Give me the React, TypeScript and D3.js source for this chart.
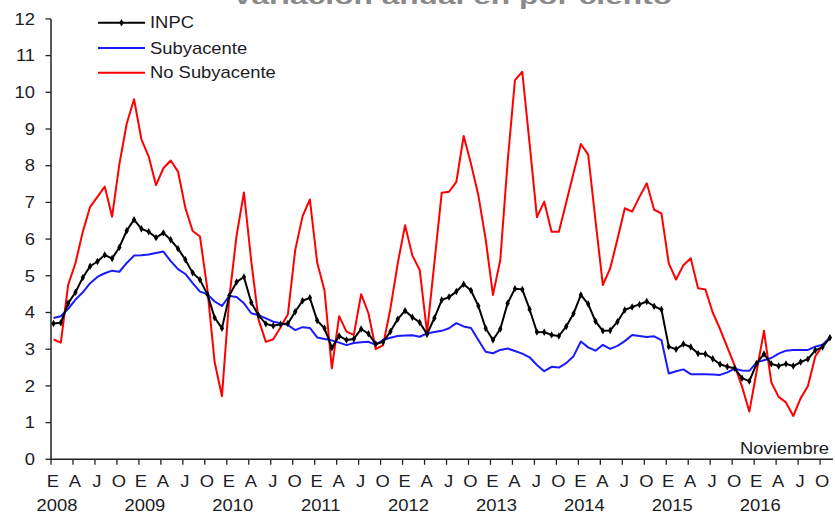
import React from "react";
import * as d3 from "d3";

const W = 835;
const H = 515;

const monthLabels = ["E", "A", "J", "O"];
const years = ["2008", "2009", "2010", "2011", "2012", "2013", "2014", "2015", "2016"];
const yTicks = [0, 1, 2, 3, 4, 5, 6, 7, 8, 9, 10, 11, 12];

const inpc = [
  3.70, 3.72, 4.25, 4.55, 4.95, 5.26, 5.39, 5.57, 5.47, 5.78, 6.23, 6.53,
  6.28, 6.20, 6.04, 6.17, 5.98, 5.74, 5.44, 5.08, 4.89, 4.50, 3.86, 3.57,
  4.46, 4.83, 4.97, 4.27, 3.92, 3.69, 3.64, 3.68, 3.70, 4.02, 4.32, 4.40,
  3.78, 3.57, 3.04, 3.36, 3.25, 3.28, 3.55, 3.42, 3.14, 3.20, 3.48, 3.82,
  4.05, 3.87, 3.73, 3.41, 3.85, 4.34, 4.42, 4.57, 4.77, 4.60, 4.18, 3.57,
  3.25, 3.55, 4.25, 4.65, 4.63, 4.09, 3.47, 3.46, 3.39, 3.36, 3.62, 3.97,
  4.48, 4.23, 3.76, 3.50, 3.51, 3.75, 4.07, 4.15, 4.22, 4.30, 4.17, 4.08,
  3.07, 3.00, 3.14, 3.06, 2.88, 2.87, 2.74, 2.59, 2.52, 2.48, 2.21, 2.13,
  2.61, 2.87, 2.60, 2.54, 2.60, 2.54, 2.65, 2.73, 2.97, 3.06, 3.31,
];

const subyacente = [
  3.85, 3.90, 4.10, 4.35, 4.55, 4.80, 4.97, 5.07, 5.14, 5.11, 5.35, 5.55,
  5.56, 5.58, 5.62, 5.66, 5.40, 5.18, 5.05, 4.80, 4.57, 4.50, 4.30, 4.18,
  4.45, 4.42, 4.25, 3.98, 3.93, 3.84, 3.75, 3.71, 3.66, 3.52, 3.60, 3.58,
  3.32, 3.28, 3.24, 3.18, 3.11, 3.17, 3.19, 3.20, 3.12, 3.25, 3.31, 3.36,
  3.37, 3.38, 3.34, 3.43, 3.47, 3.50, 3.57, 3.71, 3.62, 3.58, 3.25, 2.93,
  2.89, 2.98, 3.02, 2.95, 2.88, 2.78, 2.57, 2.40, 2.52, 2.50, 2.62, 2.81,
  3.21, 3.05, 2.96, 3.12, 3.01, 3.09, 3.22, 3.39, 3.36, 3.33, 3.35, 3.25,
  2.34, 2.40, 2.45, 2.32, 2.32, 2.32, 2.31, 2.30, 2.37, 2.47, 2.42, 2.41,
  2.64, 2.70, 2.76, 2.88, 2.96, 2.98, 2.98, 2.98, 3.07, 3.12, 3.31,
];

const noSubyacente = [
  3.27, 3.18, 4.75, 5.35, 6.20, 6.88, 7.15, 7.43, 6.61, 8.05, 9.15, 9.81,
  8.72, 8.25, 7.47, 7.93, 8.14, 7.84, 6.85, 6.22, 6.07, 4.65, 2.65, 1.72,
  4.40, 6.10, 7.27, 5.40, 3.80, 3.20, 3.27, 3.60, 3.95, 5.70, 6.62, 7.08,
  5.36, 4.60, 2.48, 3.90, 3.48, 3.39, 4.50, 3.98, 3.00, 3.11, 4.11, 5.34,
  6.38, 5.55, 5.16, 3.45, 5.35, 7.26, 7.29, 7.56, 8.81, 8.05, 7.20, 6.00,
  4.48, 5.43, 8.10, 10.33, 10.56, 8.60, 6.60, 7.02, 6.20, 6.20, 7.00, 7.80,
  8.59, 8.30, 6.50, 4.75, 5.20, 6.00, 6.84, 6.75, 7.15, 7.52, 6.80, 6.70,
  5.34, 4.90, 5.29, 5.48, 4.66, 4.63, 4.00, 3.55, 3.05, 2.55, 1.98, 1.30,
  2.40, 3.50, 2.10, 1.70, 1.55, 1.18, 1.66, 2.00, 2.80, 3.10, 3.32,
];

const FONT = "'Liberation Sans', Arial, sans-serif";
const TXT = "#1c1c24";
const SX = 1.15;

function T({ x, y, anchor = "start", size = 16, children, fill = TXT, weight = "normal" }: any) {
  return (
    <text
      transform={`translate(${x},${y}) scale(${SX},1)`}
      textAnchor={anchor}
      fontSize={size}
      fontFamily={FONT}
      fill={fill}
      fontWeight={weight}
    >
      {children}
    </text>
  );
}

export default function App() {
  const n = inpc.length;
  const x = d3.scaleLinear().domain([0, n - 1]).range([53.5, 829.9]);
  const y = d3.scaleLinear().domain([0, 12]).range([459.3, 18.9]);
  const axisX = 51;

  const line = d3
    .line<number>()
    .x((_, i) => x(i))
    .y((d) => y(d));

  const diamond = d3.symbol().type(d3.symbolDiamond).size(16)() as string;

  const quarterIdx = d3.range(0, n, 3);

  return (
    <svg
      width={W}
      height={H}
      style={{ position: "absolute", left: 0, top: 0, background: "#fff" }}
    >
      <rect x={0} y={0} width={W} height={H} fill="#fff" />
      {/* partially visible title */}
      <text
        x={452}
        y={4}
        textAnchor="middle"
        fontSize={22}
        fontWeight="bold"
        fontFamily={FONT}
        fill="#8a8a8a"
        textLength={440}
        lengthAdjust="spacingAndGlyphs"
      >
        Variación anual en por ciento
      </text>

      {/* Y axis */}
      <line x1={axisX} x2={axisX} y1={y(12)} y2={y(0)} stroke="#222" strokeWidth={1.5} />
      {yTicks.map((t) => (
        <g key={t}>
          <line x1={axisX - 5.5} x2={axisX} y1={y(t)} y2={y(t)} stroke="#222" strokeWidth={1.3} />
          <T x={35} y={y(t) + 5.7} anchor="end">
            {t}
          </T>
        </g>
      ))}

      {/* X axis */}
      <line x1={axisX} x2={833} y1={y(0)} y2={y(0)} stroke="#222" strokeWidth={1.5} />
      {quarterIdx.map((q, k) => (
        <g key={q}>
          <line
            x1={x(q) - 2.5}
            x2={x(q) - 2.5}
            y1={y(0)}
            y2={y(0) + 5.5}
            stroke="#222"
            strokeWidth={1.3}
          />
          <T x={x(q) - 0.5} y={487} anchor="middle">
            {monthLabels[k % 4]}
          </T>
        </g>
      ))}
      {years.map((yr, k) => (
        <T key={yr} x={x(12 * k) + 3.5} y={511} anchor="middle">
          {yr}
        </T>
      ))}

      <T x={829} y={454} anchor="end">
        Noviembre
      </T>

      {/* Series */}
      <path d={line(noSubyacente) as string} fill="none" stroke="#ff0000" strokeWidth={2} strokeLinejoin="round" />
      <path d={line(subyacente) as string} fill="none" stroke="#1a1aff" strokeWidth={2} strokeLinejoin="round" />
      <path d={line(inpc) as string} fill="none" stroke="#000" strokeWidth={2} strokeLinejoin="round" />
      {inpc.map((v, i) => (
        <path key={i} d={diamond} transform={`translate(${x(i)},${y(v)})`} fill="#000" />
      ))}

      {/* Legend */}
      <line x1={98} x2={145} y1={22.7} y2={22.7} stroke="#000" strokeWidth={2} />
      <path d={diamond} transform="translate(121.5,22.7)" fill="#000" />
      <T x={150} y={28.3}>INPC</T>
      <line x1={98} x2={145} y1={48} y2={48} stroke="#1a1aff" strokeWidth={2} />
      <T x={150} y={54}>Subyacente</T>
      <line x1={98} x2={145} y1={72.7} y2={72.7} stroke="#ff0000" strokeWidth={2} />
      <T x={150} y={78.3}>No Subyacente</T>
    </svg>
  );
}
